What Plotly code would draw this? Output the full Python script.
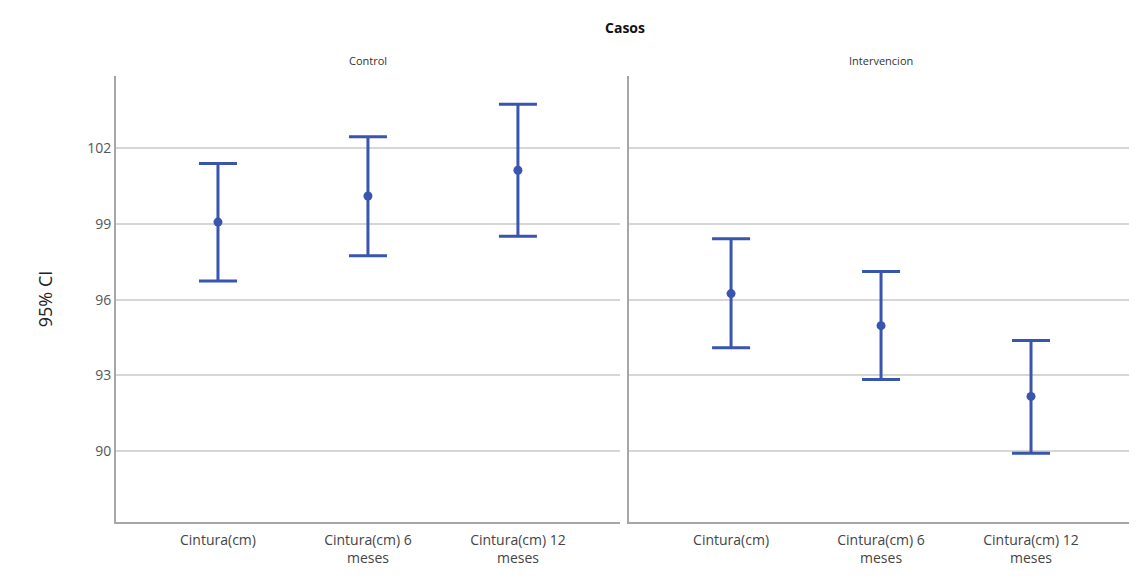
import plotly.graph_objects as go
from plotly.subplots import make_subplots

categories = ["Cintura(cm)", "Cintura(cm) 6<br>meses", "Cintura(cm) 12<br>meses"]
panels = ["Control", "Intervencion"]
control_mean = [99.07, 100.10, 101.12]
control_upper = [101.39, 102.45, 103.73]
control_lower = [96.74, 97.74, 98.51]
interv_mean = [96.24, 94.97, 92.17]
interv_upper = [98.41, 97.11, 94.38]
interv_lower = [94.10, 92.84, 89.92]
y_ticks = [90, 93, 96, 99, 102]

color = "#3a55ae"
fig = make_subplots(rows=1, cols=2, shared_yaxes=True, horizontal_spacing=0.009)

for col, (m, u, l) in enumerate([(control_mean, control_upper, control_lower),
                                  (interv_mean, interv_upper, interv_lower)], start=1):
    fig.add_trace(go.Scatter(
        x=categories, y=m, mode="markers",
        marker=dict(color=color, size=9),
        error_y=dict(type="data", symmetric=False,
                     array=[a - b for a, b in zip(u, m)],
                     arrayminus=[b - c for b, c in zip(m, l)],
                     color=color, thickness=3, width=19),
        showlegend=False), row=1, col=col)

font = "Open Sans, DejaVu Sans, sans-serif"
for col in (1, 2):
    fig.update_xaxes(row=1, col=col, type="category", range=[-0.68, 2.68],
                     showline=True, linecolor="#a6a6a6", linewidth=2,
                     showgrid=False, ticks="", ticklabelstandoff=4,
                     tickfont=dict(size=14, color="#444", family=font))
    fig.update_yaxes(row=1, col=col, range=[87.2, 104.85], tickvals=y_ticks,
                     showline=True, linecolor="#a6a6a6", linewidth=2,
                     showgrid=True, gridcolor="#d6d6d6", gridwidth=2,
                     zeroline=False, ticks="",
                     tickfont=dict(size=14, color="#555", family=font))
fig.update_yaxes(row=1, col=1, automargin=False,
                 title=dict(text="95% CI", font=dict(size=18, color="#222", family=font), standoff=30))

for i, name in enumerate(panels):
    fig.add_annotation(text=name, xref=f"x{'' if i == 0 else 2} domain", yref="paper",
                       x=0.5, y=1.0, yshift=25, showarrow=False,
                       font=dict(size=11, color="#333", family=font))
fig.add_annotation(text="<b>Casos</b>", xref="paper", yref="paper", x=0.5, y=1.0, yshift=60,
                   showarrow=False, font=dict(size=14, color="#111", family=font))

fig.update_layout(width=1137, height=578, plot_bgcolor="white", paper_bgcolor="white",
                  margin=dict(l=108, r=12, t=68, b=64, autoexpand=False), font=dict(family=font))
fig.write_html("out.html")
